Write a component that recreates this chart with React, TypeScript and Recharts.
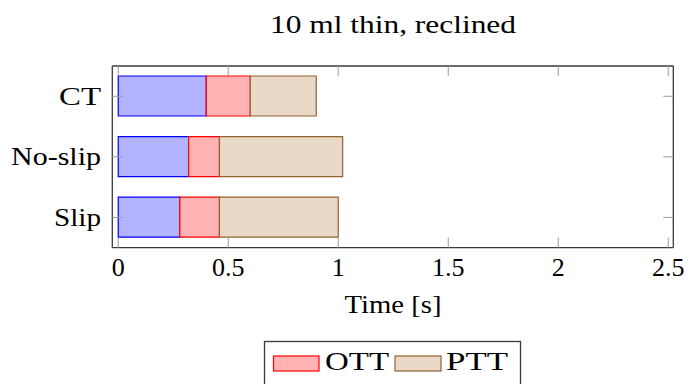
import React from 'react';
import { BarChart, Bar, XAxis, YAxis } from 'recharts';

const categories = ['CT', 'No-slip', 'Slip'];
const baseValues = [0.4, 0.32, 0.28];
const ottValues = [0.2, 0.14, 0.18];
const pttValues = [0.3, 0.56, 0.54];
const xTicks = [0, 0.5, 1, 1.5, 2, 2.5];
const xDomain: [number, number] = [-0.027, 2.523];
const titleText = '10 ml thin, reclined';
const xLabelText = 'Time [s]';
const legendNames = ['OTT', 'PTT'];

const data = categories.map((name, i) => ({
  name,
  base: baseValues[i],
  OTT: ottValues[i],
  PTT: pttValues[i],
}));

const FONT = "'Liberation Serif', 'Times New Roman', serif";
const FS = 26;
const yLabelWidths: Record<string, number> = { CT: 42, 'No-slip': 90, Slip: 47 };
const FRAME = '#3a3a3a';
const TICK = '#9a9a9a';

const colors = {
  base: { fill: '#b3b3ff', stroke: '#0000ff' },
  OTT: { fill: '#ffb3b3', stroke: '#ff0000' },
  PTT: { fill: '#ead9c6', stroke: '#8f6234' },
};

const YTick = (props: any) => {
  const { x, y, payload } = props;
  return (
    <text
      x={x}
      y={y + 8.5}
      textAnchor="end"
      fontFamily={FONT}
      fontSize={FS}
      fill="#000"
      textLength={yLabelWidths[payload.value]}
      lengthAdjust="spacingAndGlyphs"
    >
      {payload.value}
    </text>
  );
};

const XTick = (props: any) => {
  const { x, y, payload } = props;
  return (
    <text x={x} y={y + 28.3} textAnchor="middle" fontFamily={FONT} fontSize={FS} fill="#000">
      {String(payload.value)}
    </text>
  );
};

export default function App() {
  return (
    <div style={{ position: 'absolute', left: 0, top: 0, width: 690, height: 384, background: '#fff' }}>
      <BarChart
        width={690}
        height={384}
        data={data}
        layout="vertical"
        margin={{ top: 56, right: 6.7, bottom: 106.3, left: 0 }}
        barSize={40}
      >
        <XAxis
          xAxisId="b"
          type="number"
          orientation="bottom"
          domain={xDomain}
          ticks={xTicks}
          allowDataOverflow
          height={30}
          tickSize={-10}
          tickMargin={10}
          tick={<XTick />}
          tickLine={{ stroke: TICK, strokeWidth: 1 }}
          axisLine={{ stroke: FRAME, strokeWidth: 1.3 }}
        />
        <XAxis
          xAxisId="t"
          type="number"
          orientation="top"
          domain={xDomain}
          ticks={xTicks}
          allowDataOverflow
          height={10}
          tickSize={-10}
          tickFormatter={() => ''}
          tickLine={{ stroke: TICK, strokeWidth: 1 }}
          axisLine={{ stroke: FRAME, strokeWidth: 1.3 }}
        />
        <YAxis
          yAxisId="l"
          type="category"
          dataKey="name"
          orientation="left"
          width={112.3}
          tickSize={-10}
          tickMargin={21.3}
          tick={<YTick />}
          tickLine={{ stroke: TICK, strokeWidth: 1 }}
          axisLine={{ stroke: FRAME, strokeWidth: 1.3 }}
        />
        <YAxis
          yAxisId="r"
          type="category"
          dataKey="name"
          orientation="right"
          width={10}
          tickSize={-10}
          tickFormatter={() => ''}
          tickLine={{ stroke: TICK, strokeWidth: 1 }}
          axisLine={{ stroke: FRAME, strokeWidth: 1.3 }}
        />
        <Bar xAxisId="b" yAxisId="l" dataKey="base" stackId="s" fill={colors.base.fill} stroke={colors.base.stroke} strokeWidth={1.2} isAnimationActive={false} />
        <Bar xAxisId="b" yAxisId="l" dataKey="OTT" stackId="s" fill={colors.OTT.fill} stroke={colors.OTT.stroke} strokeWidth={1.2} isAnimationActive={false} />
        <Bar xAxisId="b" yAxisId="l" dataKey="PTT" stackId="s" fill={colors.PTT.fill} stroke={colors.PTT.stroke} strokeWidth={1.2} isAnimationActive={false} />
      </BarChart>
      <svg
        width={690}
        height={384}
        style={{ position: 'absolute', left: 0, top: 0, pointerEvents: 'none' }}
      >
        <text x={393} y={33} textAnchor="middle" fontFamily={FONT} fontSize={FS} fill="#000" textLength={246} lengthAdjust="spacingAndGlyphs">
          {titleText}
        </text>
        <text x={393} y={313} textAnchor="middle" fontFamily={FONT} fontSize={FS} fill="#000" textLength={97} lengthAdjust="spacingAndGlyphs">
          {xLabelText}
        </text>
        <rect x={264.5} y={341.5} width={256} height={60} fill="#fff" stroke={FRAME} strokeWidth={1.3} />
        <rect x={273.5} y={356} width={45.5} height={15} fill={colors.OTT.fill} stroke={colors.OTT.stroke} strokeWidth={1.2} />
        <text x={325} y={370} fontFamily={FONT} fontSize={FS} fill="#000" textLength={64} lengthAdjust="spacingAndGlyphs">
          {legendNames[0]}
        </text>
        <rect x={395} y={356} width={46} height={15} fill={colors.PTT.fill} stroke={colors.PTT.stroke} strokeWidth={1.2} />
        <text x={446} y={370} fontFamily={FONT} fontSize={FS} fill="#000" textLength={62} lengthAdjust="spacingAndGlyphs">
          {legendNames[1]}
        </text>
      </svg>
    </div>
  );
}
